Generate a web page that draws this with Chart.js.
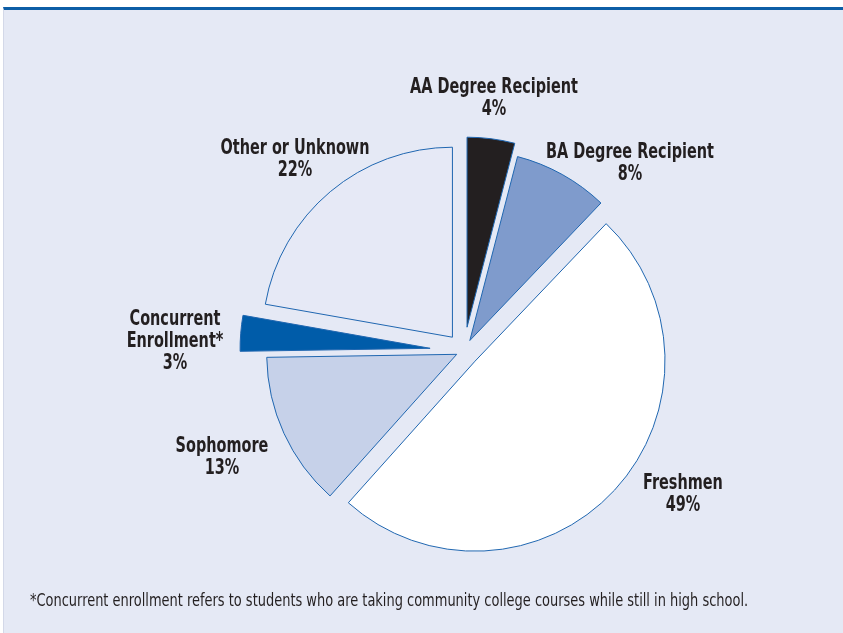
<!DOCTYPE html>
<html>
<head>
<meta charset="utf-8">
<script src="https://cdn.jsdelivr.net/npm/chart.js@4.4.1/dist/chart.umd.min.js"></script>
<style>
  html, body { margin: 0; padding: 0; background: #ffffff; }
  body { width: 843px; height: 633px; position: relative; overflow: hidden; }
  #frame { position: absolute; left: 3px; top: 7px; width: 840px; height: 626px;
           background: #e5e9f5; border-top: 3px solid #0d5ea6; border-left: 1px solid #d3d8e8; box-sizing: border-box; }
  #pie { position: absolute; left: 0; top: 0; }
  #note { position: absolute; left: 30px; top: 590px; font-family: "DejaVu Sans Condensed", "DejaVu Sans", sans-serif;
          font-size: 17.5px; line-height: 20px; color: #231f20; white-space: nowrap;
          transform: scaleX(0.824); transform-origin: 0 0; }
</style>
</head>
<body>
<div id="frame"></div>
<canvas id="pie" width="843" height="633"></canvas>
<div id="note">*Concurrent enrollment refers to students who are taking community college courses while still in high school.</div>
<script>
// --- DATA ---
const categories = ['AA Degree Recipient', 'BA Degree Recipient', 'Freshmen', 'Sophomore', 'Concurrent Enrollment*', 'Other or Unknown'];
const shares = [4, 8, 49, 13, 3, 22];
const labelLines = [
  ['AA Degree Recipient', '4%'],
  ['BA Degree Recipient', '8%'],
  ['Freshmen', '49%'],
  ['Sophomore', '13%'],
  ['Concurrent', 'Enrollment*', '3%'],
  ['Other or Unknown', '22%']
];

// --- LOOK ---
const sliceColors = ['#231f20', '#7f9bcc', '#ffffff', '#c6d1e9', '#005ca9', '#e6e9f6'];
const sliceOffsets = [24, 12, 15, 8, 34, 18];   // how far each slice is pulled out, px
// label anchor (first line baseline) relative to pie centre
const labelPos = [[30, -258], [166, -193], [219, 138], [-242, 101], [-289, -26], [-169, -197]];
const labelFont = 'bold 22px "DejaVu Sans Condensed", "DejaVu Sans", sans-serif';
const labelSquash = 0.73;

// pull slices out along their middle angle (Chart.js "offset" also grows the radius, so do it here)
const explode = {
  id: 'explode',
  afterUpdate(chart) {
    chart.getDatasetMeta(0).data.forEach((arc, i) => {
      if (arc._exploded) return;
      const baseDraw = arc.draw;
      arc.draw = function(ctx) {
        const mid = (this.startAngle + this.endAngle) / 2;
        ctx.save();
        ctx.translate(Math.cos(mid) * sliceOffsets[i], Math.sin(mid) * sliceOffsets[i]);
        baseDraw.call(this, ctx);
        ctx.restore();
      };
      arc._exploded = true;
    });
  }
};

const sliceLabels = {
  id: 'sliceLabels',
  afterDatasetsDraw(chart) {
    const ctx = chart.ctx;
    const arcs = chart.getDatasetMeta(0).data;
    ctx.save();
    ctx.font = labelFont;
    ctx.fillStyle = '#231f20';
    ctx.textAlign = 'center';
    ctx.textBaseline = 'alphabetic';
    arcs.forEach((arc, i) => {
      let x = arc.x + labelPos[i][0], y = arc.y + labelPos[i][1];
      labelLines[i].forEach((line, j) => {
        ctx.save();
        ctx.translate(x, y + j * 22);
        ctx.scale(labelSquash, 1);
        ctx.fillText(line, 0, 0);
        ctx.restore();
      });
    });
    ctx.restore();
  }
};

new Chart(document.getElementById('pie'), {
  type: 'pie',
  data: {
    labels: categories,
    datasets: [{
      data: shares,
      backgroundColor: sliceColors,
      borderColor: '#1f66b0',
      borderWidth: 1
    }]
  },
  options: {
    responsive: false,
    animation: false,
    radius: 190,
    layout: { padding: { left: 85, top: 69, right: 0, bottom: 0 } },
    plugins: { legend: { display: false }, tooltip: { enabled: false } }
  },
  plugins: [explode, sliceLabels]
});
</script>
</body>
</html>
